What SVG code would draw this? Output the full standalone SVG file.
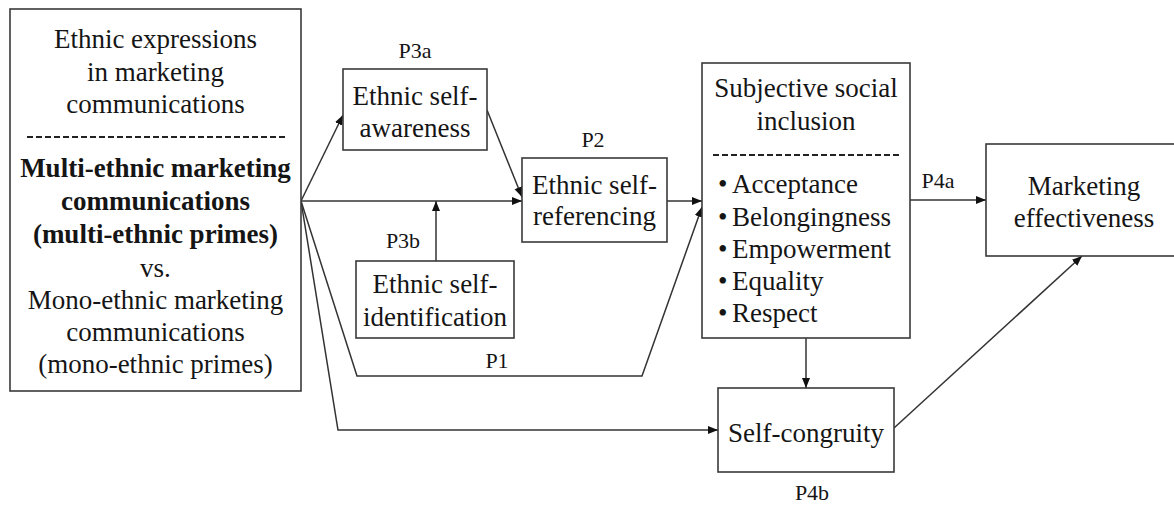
<svg xmlns="http://www.w3.org/2000/svg" width="1174" height="506" viewBox="0 0 1174 506">
<defs>
<style>
.box{fill:#fff;stroke:#3a3a3a;stroke-width:1.6}
.t{font-family:"Liberation Serif","Times New Roman",serif;font-size:27px;fill:#151515;text-anchor:middle}
.b{font-weight:bold}
.l{font-family:"Liberation Serif","Times New Roman",serif;font-size:22px;fill:#151515;text-anchor:middle}
.bl{font-family:"Liberation Serif","Times New Roman",serif;font-size:27px;fill:#151515}
.c{fill:none;stroke:#333;stroke-width:1.5}
.dash{stroke:#222;stroke-width:2;stroke-dasharray:6 3}
</style>
<marker id="ah" viewBox="0 0 10 10" refX="10" refY="5" markerWidth="10" markerHeight="10" markerUnits="userSpaceOnUse" orient="auto">
<path d="M0,1 L10,5 L0,9 z" fill="#111"/>
</marker>
</defs>
<rect width="1174" height="506" fill="#fff"/>

<g id="connectors">
<line class="c" x1="301" y1="201" x2="343" y2="115" marker-end="url(#ah)"/>
<line class="c" x1="487" y1="110" x2="522" y2="197" marker-end="url(#ah)"/>
<line class="c" x1="301" y1="201" x2="522" y2="201" marker-end="url(#ah)"/>
<line class="c" x1="436" y1="261" x2="436" y2="201" marker-end="url(#ah)"/>
<line class="c" x1="667" y1="201" x2="702" y2="201" marker-end="url(#ah)"/>
<polyline class="c" points="301,201 357,376 642,376 702,207" marker-end="url(#ah)"/>
<polyline class="c" points="301,201 338,430 718,430" marker-end="url(#ah)"/>
<line class="c" x1="806" y1="338" x2="806" y2="388" marker-end="url(#ah)"/>
<line class="c" x1="910" y1="200" x2="986" y2="200" marker-end="url(#ah)"/>
<line class="c" x1="894" y1="428" x2="1082" y2="256" marker-end="url(#ah)"/>
<text class="l" x="415" y="58">P3a</text>
<text class="l" x="593" y="147">P2</text>
<text class="l" x="403" y="248">P3b</text>
<text class="l" x="497" y="368">P1</text>
<text class="l" x="938" y="188">P4a</text>
<text class="l" x="812" y="500">P4b</text>
</g>

<g id="ethnic-expressions">
<rect class="box" x="10" y="9" width="291" height="382"/>
<text class="t" x="155.5" y="48">Ethnic expressions</text>
<text class="t" x="155.5" y="81">in marketing</text>
<text class="t" x="155.5" y="113">communications</text>
<line class="dash" x1="27" y1="137" x2="287" y2="137"/>
<text class="t b" x="155.5" y="177">Multi-ethnic marketing</text>
<text class="t b" x="155.5" y="210">communications</text>
<text class="t b" x="155.5" y="243">(multi-ethnic primes)</text>
<text class="t" x="155.5" y="277">vs.</text>
<text class="t" x="155.5" y="309">Mono-ethnic marketing</text>
<text class="t" x="155.5" y="341">communications</text>
<text class="t" x="155.5" y="373">(mono-ethnic primes)</text>
</g>

<g id="self-awareness">
<rect class="box" x="343" y="69" width="144" height="81"/>
<text class="t" x="415" y="105">Ethnic self-</text>
<text class="t" x="415" y="137">awareness</text>
</g>

<g id="self-identification">
<rect class="box" x="356" y="261" width="158" height="77"/>
<text class="t" x="435" y="293">Ethnic self-</text>
<text class="t" x="435" y="326">identification</text>
</g>

<g id="self-referencing">
<rect class="box" x="522" y="158" width="145" height="84"/>
<text class="t" x="594.5" y="194">Ethnic self-</text>
<text class="t" x="594.5" y="225">referencing</text>
</g>

<g id="social-inclusion">
<rect class="box" x="702" y="63" width="208" height="275"/>
<text class="t" x="806" y="97">Subjective social</text>
<text class="t" x="806" y="130">inclusion</text>
<line class="dash" x1="713" y1="155" x2="900" y2="155"/>
<text class="bl" y="193"><tspan x="718">•</tspan><tspan x="732">Acceptance</tspan></text>
<text class="bl" y="226"><tspan x="718">•</tspan><tspan x="732">Belongingness</tspan></text>
<text class="bl" y="258"><tspan x="718">•</tspan><tspan x="732">Empowerment</tspan></text>
<text class="bl" y="290"><tspan x="718">•</tspan><tspan x="732">Equality</tspan></text>
<text class="bl" y="322"><tspan x="718">•</tspan><tspan x="732">Respect</tspan></text>
</g>

<g id="self-congruity">
<rect class="box" x="718" y="388" width="176" height="84"/>
<text class="t" x="806" y="442">Self-congruity</text>
</g>

<g id="marketing-effectiveness">
<rect class="box" x="986" y="144" width="210" height="112"/>
<text class="t" x="1084" y="195">Marketing</text>
<text class="t" x="1084" y="227">effectiveness</text>
</g>
</svg>
